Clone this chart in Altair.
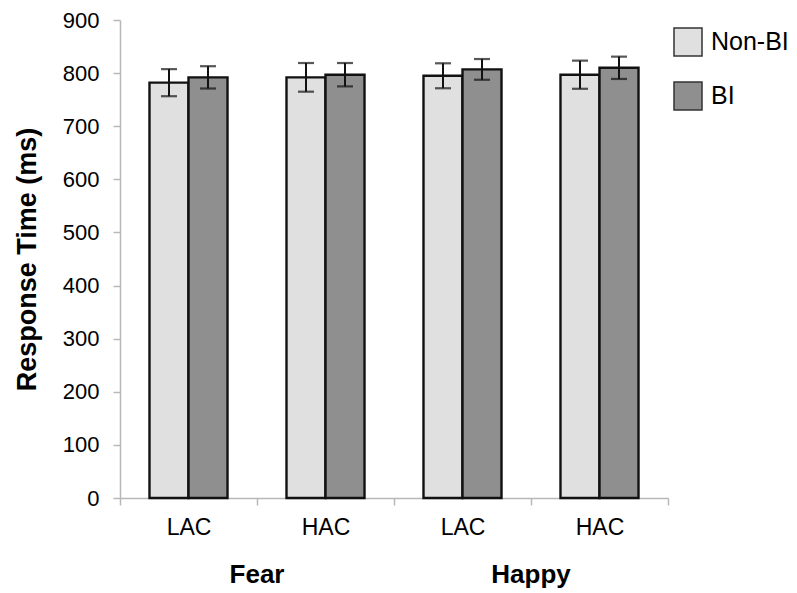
import altair as alt
import pandas as pd

emotions = ["Fear", "Fear", "Happy", "Happy"]
conditions = ["LAC", "HAC", "LAC", "HAC"]
groups = ["Non-BI", "BI"]
non_bi_mean = [782, 792, 795, 797]
non_bi_err = [25.5, 27, 23.5, 26.5]
bi_mean = [792, 797, 807, 810]
bi_err = [21, 22, 19.5, 21]
y_ticks = [0, 100, 200, 300, 400, 500, 600, 700, 800, 900]
group_labels = ["Fear", "Happy"]
group_label_pos = ["Fear|HAC", "Happy|HAC"]

cats = [e + "|" + c for e, c in zip(emotions, conditions)]
rows = []
for i, cat in enumerate(cats):
    for g, means, errs in [("Non-BI", non_bi_mean, non_bi_err), ("BI", bi_mean, bi_err)]:
        rows.append({"cat": cat, "group": g, "mean": means[i],
                     "lo": means[i] - errs[i], "hi": means[i] + errs[i]})
df = pd.DataFrame(rows)
lab_df = pd.DataFrame({"label": group_labels, "cat": group_label_pos})

W, H = 548, 478
FONT = "Liberation Sans"

x_enc = alt.X("cat:N", sort=cats, title=None,
              scale=alt.Scale(paddingInner=0, paddingOuter=0),
              axis=alt.Axis(labelExpr="split(datum.label, '|')[1]", tickBand="extent",
                            labelAngle=0, labelFontSize=23, tickSize=7, labelPadding=11))
xo_enc = alt.XOffset("group:N", sort=groups,
                     scale=alt.Scale(domain=groups, paddingInner=0, paddingOuter=0.756))
y_scale = alt.Scale(domain=[0, 900], nice=False)

bars = alt.Chart(df).mark_bar(stroke="#111111", strokeWidth=2.4).encode(
    x=x_enc,
    xOffset=xo_enc,
    y=alt.Y("mean:Q", scale=y_scale,
            axis=alt.Axis(values=y_ticks, tickSize=7, labelPadding=14, labelFontSize=22,
                          title="Response Time (ms)", titleFontSize=27, titleFontWeight="bold",
                          titleFont=FONT, titleColor="black", titlePadding=21)),
    color=alt.Color("group:N", sort=groups,
                    scale=alt.Scale(domain=groups, range=["#e0e0e0", "#8f8f8f"]),
                    legend=alt.Legend(title=None, orient="none", legendX=553, legendY=7,
                                      symbolType="square", symbolSize=784,
                                      symbolStrokeColor="#333333", symbolStrokeWidth=1.5,
                                      labelFontSize=25, labelFont=FONT, labelColor="black",
                                      labelOffset=8, rowPadding=20, padding=0)),
)

err_rule = alt.Chart(df).mark_rule(color="#111111", strokeWidth=2).encode(
    x=alt.X("cat:N", sort=cats), xOffset=xo_enc,
    y=alt.Y("lo:Q", scale=y_scale), y2="hi:Q")
cap_lo = alt.Chart(df).mark_tick(color="#111111", thickness=2.2, size=16).encode(
    x=alt.X("cat:N", sort=cats), xOffset=xo_enc, y=alt.Y("lo:Q", scale=y_scale))
cap_hi = alt.Chart(df).mark_tick(color="#111111", thickness=2.2, size=16).encode(
    x=alt.X("cat:N", sort=cats), xOffset=xo_enc, y=alt.Y("hi:Q", scale=y_scale))

glabels = alt.Chart(lab_df).mark_text(font=FONT, fontSize=26, fontWeight="bold",
                                      color="black", baseline="alphabetic").encode(
    x=alt.X("cat:N", sort=cats, bandPosition=0),
    y=alt.value(H + 85),
    text="label:N")

chart = alt.layer(bars, err_rule, cap_lo, cap_hi, glabels).properties(
    width=W, height=H, padding={"left": 5, "top": 1, "right": 0, "bottom": 0}
).configure_view(stroke=None).configure_axis(
    grid=False, domainColor="#b8b8b8", tickColor="#b8b8b8", domainWidth=1.5, tickWidth=1.5,
    labelFont=FONT, labelColor="black"
)

chart.save("out.html", embed_options={"renderer": "svg", "actions": False})
